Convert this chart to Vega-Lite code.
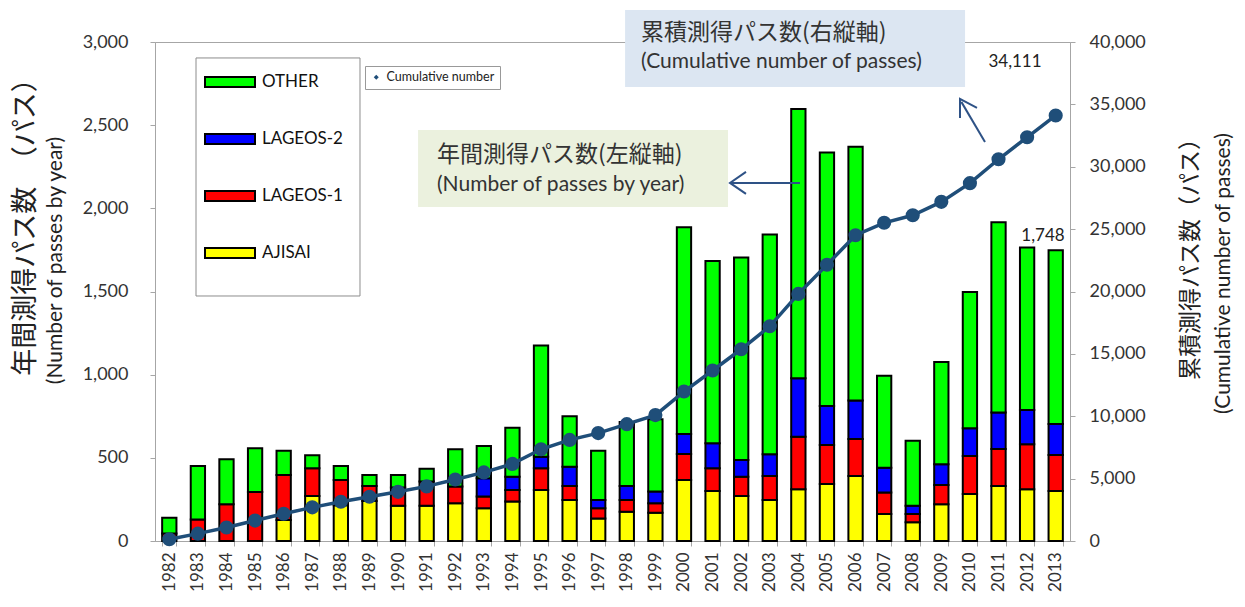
{
  "$schema": "https://vega.github.io/schema/vega-lite/v6.json",
  "width": 915,
  "height": 499,
  "autosize": "none",
  "padding": {"left": 155, "top": 42, "right": 175, "bottom": 66},
  "background": "white",
  "config": {
    "font": "Lato",
    "view": {"stroke": "#a6a6a6"},
    "axis": {"domainColor": "#a6a6a6", "tickColor": "#a6a6a6", "labelColor": "#333333", "labelFontSize": 18, "grid": false, "titleColor": "#222222", "titleFontWeight": "normal"}
  },
  "datasets": {
    "passes": [
      {"year": "1982", "sat": "LAGEOS-1", "n": 45}, {"year": "1982", "sat": "OTHER", "n": 95},
      {"year": "1983", "sat": "LAGEOS-1", "n": 130}, {"year": "1983", "sat": "OTHER", "n": 321},
      {"year": "1984", "sat": "LAGEOS-1", "n": 221}, {"year": "1984", "sat": "OTHER", "n": 270},
      {"year": "1985", "sat": "LAGEOS-1", "n": 295}, {"year": "1985", "sat": "OTHER", "n": 262},
      {"year": "1986", "sat": "AJISAI", "n": 126}, {"year": "1986", "sat": "LAGEOS-1", "n": 271}, {"year": "1986", "sat": "OTHER", "n": 146},
      {"year": "1987", "sat": "AJISAI", "n": 270}, {"year": "1987", "sat": "LAGEOS-1", "n": 167}, {"year": "1987", "sat": "OTHER", "n": 78},
      {"year": "1988", "sat": "AJISAI", "n": 215}, {"year": "1988", "sat": "LAGEOS-1", "n": 152}, {"year": "1988", "sat": "OTHER", "n": 84},
      {"year": "1989", "sat": "AJISAI", "n": 240}, {"year": "1989", "sat": "LAGEOS-1", "n": 91}, {"year": "1989", "sat": "OTHER", "n": 66},
      {"year": "1990", "sat": "AJISAI", "n": 212}, {"year": "1990", "sat": "LAGEOS-1", "n": 110}, {"year": "1990", "sat": "OTHER", "n": 75},
      {"year": "1991", "sat": "AJISAI", "n": 212}, {"year": "1991", "sat": "LAGEOS-1", "n": 145}, {"year": "1991", "sat": "OTHER", "n": 78},
      {"year": "1992", "sat": "AJISAI", "n": 227}, {"year": "1992", "sat": "LAGEOS-1", "n": 100}, {"year": "1992", "sat": "OTHER", "n": 224},
      {"year": "1993", "sat": "AJISAI", "n": 197}, {"year": "1993", "sat": "LAGEOS-1", "n": 70}, {"year": "1993", "sat": "LAGEOS-2", "n": 110}, {"year": "1993", "sat": "OTHER", "n": 194},
      {"year": "1994", "sat": "AJISAI", "n": 237}, {"year": "1994", "sat": "LAGEOS-1", "n": 70}, {"year": "1994", "sat": "LAGEOS-2", "n": 80}, {"year": "1994", "sat": "OTHER", "n": 294},
      {"year": "1995", "sat": "AJISAI", "n": 307}, {"year": "1995", "sat": "LAGEOS-1", "n": 130}, {"year": "1995", "sat": "LAGEOS-2", "n": 70}, {"year": "1995", "sat": "OTHER", "n": 668},
      {"year": "1996", "sat": "AJISAI", "n": 247}, {"year": "1996", "sat": "LAGEOS-1", "n": 84}, {"year": "1996", "sat": "LAGEOS-2", "n": 116}, {"year": "1996", "sat": "OTHER", "n": 303},
      {"year": "1997", "sat": "AJISAI", "n": 136}, {"year": "1997", "sat": "LAGEOS-1", "n": 61}, {"year": "1997", "sat": "LAGEOS-2", "n": 50}, {"year": "1997", "sat": "OTHER", "n": 296},
      {"year": "1998", "sat": "AJISAI", "n": 176}, {"year": "1998", "sat": "LAGEOS-1", "n": 71}, {"year": "1998", "sat": "LAGEOS-2", "n": 84}, {"year": "1998", "sat": "OTHER", "n": 384},
      {"year": "1999", "sat": "AJISAI", "n": 170}, {"year": "1999", "sat": "LAGEOS-1", "n": 57}, {"year": "1999", "sat": "LAGEOS-2", "n": 70}, {"year": "1999", "sat": "OTHER", "n": 435},
      {"year": "2000", "sat": "AJISAI", "n": 367}, {"year": "2000", "sat": "LAGEOS-1", "n": 156}, {"year": "2000", "sat": "LAGEOS-2", "n": 120}, {"year": "2000", "sat": "OTHER", "n": 1243},
      {"year": "2001", "sat": "AJISAI", "n": 301}, {"year": "2001", "sat": "LAGEOS-1", "n": 136}, {"year": "2001", "sat": "LAGEOS-2", "n": 150}, {"year": "2001", "sat": "OTHER", "n": 1097},
      {"year": "2002", "sat": "AJISAI", "n": 271}, {"year": "2002", "sat": "LAGEOS-1", "n": 116}, {"year": "2002", "sat": "LAGEOS-2", "n": 100}, {"year": "2002", "sat": "OTHER", "n": 1217},
      {"year": "2003", "sat": "AJISAI", "n": 247}, {"year": "2003", "sat": "LAGEOS-1", "n": 144}, {"year": "2003", "sat": "LAGEOS-2", "n": 130}, {"year": "2003", "sat": "OTHER", "n": 1321},
      {"year": "2004", "sat": "AJISAI", "n": 311}, {"year": "2004", "sat": "LAGEOS-1", "n": 316}, {"year": "2004", "sat": "LAGEOS-2", "n": 351}, {"year": "2004", "sat": "OTHER", "n": 1619},
      {"year": "2005", "sat": "AJISAI", "n": 343}, {"year": "2005", "sat": "LAGEOS-1", "n": 234}, {"year": "2005", "sat": "LAGEOS-2", "n": 235}, {"year": "2005", "sat": "OTHER", "n": 1523},
      {"year": "2006", "sat": "AJISAI", "n": 391}, {"year": "2006", "sat": "LAGEOS-1", "n": 222}, {"year": "2006", "sat": "LAGEOS-2", "n": 231}, {"year": "2006", "sat": "OTHER", "n": 1526},
      {"year": "2007", "sat": "AJISAI", "n": 162}, {"year": "2007", "sat": "LAGEOS-1", "n": 129}, {"year": "2007", "sat": "LAGEOS-2", "n": 150}, {"year": "2007", "sat": "OTHER", "n": 553},
      {"year": "2008", "sat": "AJISAI", "n": 112}, {"year": "2008", "sat": "LAGEOS-1", "n": 50}, {"year": "2008", "sat": "LAGEOS-2", "n": 50}, {"year": "2008", "sat": "OTHER", "n": 391},
      {"year": "2009", "sat": "AJISAI", "n": 221}, {"year": "2009", "sat": "LAGEOS-1", "n": 116}, {"year": "2009", "sat": "LAGEOS-2", "n": 124}, {"year": "2009", "sat": "OTHER", "n": 615},
      {"year": "2010", "sat": "AJISAI", "n": 283}, {"year": "2010", "sat": "LAGEOS-1", "n": 228}, {"year": "2010", "sat": "LAGEOS-2", "n": 167}, {"year": "2010", "sat": "OTHER", "n": 819},
      {"year": "2011", "sat": "AJISAI", "n": 331}, {"year": "2011", "sat": "LAGEOS-1", "n": 222}, {"year": "2011", "sat": "LAGEOS-2", "n": 219}, {"year": "2011", "sat": "OTHER", "n": 1144},
      {"year": "2012", "sat": "AJISAI", "n": 311}, {"year": "2012", "sat": "LAGEOS-1", "n": 270}, {"year": "2012", "sat": "LAGEOS-2", "n": 207}, {"year": "2012", "sat": "OTHER", "n": 976},
      {"year": "2013", "sat": "AJISAI", "n": 301}, {"year": "2013", "sat": "LAGEOS-1", "n": 216}, {"year": "2013", "sat": "LAGEOS-2", "n": 187}, {"year": "2013", "sat": "OTHER", "n": 1044}
    ],
    "cumul": [
      {"year": "1982", "cum": 140}, {"year": "1983", "cum": 591}, {"year": "1984", "cum": 1082}, {"year": "1985", "cum": 1639},
      {"year": "1986", "cum": 2182}, {"year": "1987", "cum": 2697}, {"year": "1988", "cum": 3148}, {"year": "1989", "cum": 3545},
      {"year": "1990", "cum": 3942}, {"year": "1991", "cum": 4377}, {"year": "1992", "cum": 4928}, {"year": "1993", "cum": 5499},
      {"year": "1994", "cum": 6180}, {"year": "1995", "cum": 7355}, {"year": "1996", "cum": 8105}, {"year": "1997", "cum": 8648},
      {"year": "1998", "cum": 9363}, {"year": "1999", "cum": 10095}, {"year": "2000", "cum": 11981}, {"year": "2001", "cum": 13665},
      {"year": "2002", "cum": 15369}, {"year": "2003", "cum": 17211}, {"year": "2004", "cum": 19808}, {"year": "2005", "cum": 22143},
      {"year": "2006", "cum": 24513}, {"year": "2007", "cum": 25507}, {"year": "2008", "cum": 26110}, {"year": "2009", "cum": 27186},
      {"year": "2010", "cum": 28683}, {"year": "2011", "cum": 30599}, {"year": "2012", "cum": 32363}, {"year": "2013", "cum": 34111}
    ]
  },
  "resolve": {"scale": {"x": "independent", "y": "independent", "color": "independent"}, "axis": {"x": "independent", "y": "independent"}},
  "layer": [
    {
      "data": {"values": [{}]},
      "mark": {"type": "rect", "fill": "white", "stroke": "#8c8c8c", "strokeWidth": 1},
      "encoding": {
        "x": {"datum": 1.434, "type": "quantitative", "scale": {"domain": [0, 32], "nice": false, "zero": false}, "axis": null},
        "x2": {"datum": 7.169},
        "y": {"datum": 2904, "type": "quantitative", "scale": {"domain": [0, 3000], "nice": false}, "axis": null},
        "y2": {"datum": 1473}
      }
    },
    {
      "data": {"name": "passes"},
      "mark": {"type": "bar", "stroke": "black", "strokeWidth": 2},
      "encoding": {
        "x": {"field": "year", "type": "ordinal", "scale": {"paddingInner": 0.5, "paddingOuter": 0.25},
          "axis": {"title": null, "labelAngle": 270, "labelFontSize": 17, "tickBand": "extent", "tickSize": 5, "labelPadding": 6}},
        "y": {"field": "n", "type": "quantitative", "stack": "zero", "scale": {"domain": [0, 3000], "nice": false},
          "axis": {"values": [0, 500, 1000, 1500, 2000, 2500, 3000], "format": ",.0f", "tickSize": 5, "labelPadding": 22,
            "title": "年間測得パス数　（パス）", "titleFont": "Noto Sans CJK JP", "titleFontSize": 27,
            "titleX": -130, "titleY": 178, "titleBaseline": "middle", "titleAlign": "center", "titleAngle": 270}},
        "color": {"field": "sat", "type": "nominal",
          "scale": {"domain": ["OTHER", "LAGEOS-2", "LAGEOS-1", "AJISAI"], "range": ["#00ff00", "#0000ff", "#ff0000", "#ffff00"]},
          "legend": {"orient": "none", "legendX": 64, "legendY": 29, "title": null, "direction": "vertical",
            "symbolType": "M-2.5,-0.5H2.5V0.5H-2.5Z", "symbolSize": 400, "symbolStrokeColor": "black", "symbolStrokeWidth": 2,
            "labelFontSize": 17, "labelColor": "#111111", "labelOffset": 21, "rowPadding": 37}},
        "order": {"field": "sat", "sort": "ascending"}
      }
    },
    {
      "data": {"name": "cumul"},
      "mark": {"type": "line", "strokeWidth": 3.5, "point": {"filled": true, "size": 200}},
      "encoding": {
        "x": {"field": "year", "type": "ordinal", "scale": {"paddingInner": 0.5, "paddingOuter": 0.25}, "axis": null},
        "y": {"field": "cum", "type": "quantitative", "scale": {"domain": [0, 40000], "nice": false},
          "axis": {"orient": "right", "values": [0, 5000, 10000, 15000, 20000, 25000, 30000, 35000, 40000], "format": ",.0f", "tickSize": 5, "labelPadding": 14,
            "title": "累積測得パス数（パス）", "titleFont": "Noto Sans CJK JP", "titleFontSize": 23,
            "titleX": 120, "titleY": 211, "titleBaseline": "middle", "titleAlign": "center", "titleAngle": 270}},
        "color": {"datum": "Cumulative number", "type": "nominal", "scale": {"range": ["#1f4e79"]},
          "legend": {"orient": "none", "legendX": 210, "legendY": 24, "title": null, "fillColor": "white", "strokeColor": "#999999",
            "padding": 5, "symbolType": "diamond", "symbolSize": 25, "symbolFillColor": "#1f2f79", "symbolStrokeWidth": 0,
            "labelFontSize": 12.5, "labelColor": "#222222", "labelOffset": 4}}
      }
    },
    {
      "data": {"values": [{}]},
      "mark": {"type": "point", "opacity": 0},
      "encoding": {
        "x": {"datum": 0, "type": "quantitative", "scale": {"domain": [0, 32], "nice": false, "zero": false}, "axis": null},
        "y": {"datum": 0, "type": "quantitative", "scale": {"domain": [0, 3000], "nice": false},
          "axis": {"orient": "left", "labels": false, "ticks": false, "domain": false, "title": "(Number of passes by year)",
            "titleFontSize": 21, "titleX": -100, "titleY": 218, "titleBaseline": "middle", "titleAlign": "center", "titleAngle": 270}}
      }
    },
    {
      "data": {"values": [{}]},
      "mark": {"type": "point", "opacity": 0},
      "encoding": {
        "x": {"datum": 0, "type": "quantitative", "scale": {"domain": [0, 32], "nice": false, "zero": false}, "axis": null},
        "y": {"datum": 0, "type": "quantitative", "scale": {"domain": [0, 3000], "nice": false},
          "axis": {"orient": "right", "labels": false, "ticks": false, "domain": false, "title": "(Cumulative number of passes)",
            "titleFontSize": 21, "titleX": 153, "titleY": 231, "titleBaseline": "middle", "titleAlign": "center", "titleAngle": 270}}
      }
    },
    {
      "data": {"values": [{}]},
      "mark": {"type": "rect", "fill": "#ebf1de"},
      "encoding": {
        "x": {"datum": 9.2, "type": "quantitative", "scale": {"domain": [0, 32], "nice": false, "zero": false}, "axis": null},
        "x2": {"datum": 20.04},
        "y": {"datum": 2471, "type": "quantitative", "scale": {"domain": [0, 3000], "nice": false}, "axis": null},
        "y2": {"datum": 2008}
      }
    },
    {
      "data": {"values": [{}]},
      "mark": {"type": "text", "align": "left", "baseline": "middle", "font": "Noto Sans CJK JP", "fontSize": 23, "color": "#333333"},
      "encoding": {
        "x": {"datum": 9.862, "type": "quantitative", "scale": {"domain": [0, 32], "nice": false, "zero": false}, "axis": null},
        "y": {"datum": 2321, "type": "quantitative", "scale": {"domain": [0, 3000], "nice": false}, "axis": null},
        "text": {"value": "年間測得パス数(左縦軸)"}
      }
    },
    {
      "data": {"values": [{}]},
      "mark": {"type": "text", "align": "left", "baseline": "middle", "fontSize": 21, "color": "#333333"},
      "encoding": {
        "x": {"datum": 9.862, "type": "quantitative", "scale": {"domain": [0, 32], "nice": false, "zero": false}, "axis": null},
        "y": {"datum": 2141, "type": "quantitative", "scale": {"domain": [0, 3000], "nice": false}, "axis": null},
        "text": {"value": "(Number of passes by year)"}
      }
    },
    {
      "data": {"values": [{}]},
      "mark": {"type": "rule", "color": "#2e5286", "strokeWidth": 2},
      "encoding": {
        "x": {"datum": 20.109, "type": "quantitative", "scale": {"domain": [0, 32], "nice": false, "zero": false}, "axis": null},
        "x2": {"datum": 22.557},
        "y": {"datum": 2153, "type": "quantitative", "scale": {"domain": [0, 3000], "nice": false}, "axis": null},
        "y2": {"datum": 2153}
      }
    },
    {
      "data": {"values": [{}]},
      "mark": {"type": "point", "shape": "M1.6,-1.1L0,0L1.6,1.1", "filled": false, "size": 400, "strokeWidth": 2, "color": "#2e5286", "opacity": 1},
      "encoding": {
        "x": {"datum": 20.109, "type": "quantitative", "scale": {"domain": [0, 32], "nice": false, "zero": false}, "axis": null},
        "y": {"datum": 2153, "type": "quantitative", "scale": {"domain": [0, 3000], "nice": false}, "axis": null}
      }
    },
    {
      "data": {"values": [{}]},
      "mark": {"type": "rect", "fill": "#dce6f2"},
      "encoding": {
        "x": {"datum": 16.44, "type": "quantitative", "scale": {"domain": [0, 32], "nice": false, "zero": false}, "axis": null},
        "x2": {"datum": 28.33},
        "y": {"datum": 3193, "type": "quantitative", "scale": {"domain": [0, 3000], "nice": false}, "axis": null},
        "y2": {"datum": 2730}
      }
    },
    {
      "data": {"values": [{}]},
      "mark": {"type": "text", "align": "left", "baseline": "middle", "font": "Noto Sans CJK JP", "fontSize": 23, "color": "#333333"},
      "encoding": {
        "x": {"datum": 16.997, "type": "quantitative", "scale": {"domain": [0, 32], "nice": false, "zero": false}, "axis": null},
        "y": {"datum": 3055, "type": "quantitative", "scale": {"domain": [0, 3000], "nice": false}, "axis": null},
        "text": {"value": "累積測得パス数(右縦軸)"}
      }
    },
    {
      "data": {"values": [{}]},
      "mark": {"type": "text", "align": "left", "baseline": "middle", "fontSize": 21, "color": "#333333"},
      "encoding": {
        "x": {"datum": 16.997, "type": "quantitative", "scale": {"domain": [0, 32], "nice": false, "zero": false}, "axis": null},
        "y": {"datum": 2880, "type": "quantitative", "scale": {"domain": [0, 3000], "nice": false}, "axis": null},
        "text": {"value": "(Cumulative number of passes)"}
      }
    },
    {
      "data": {"values": [{}]},
      "mark": {"type": "rule", "color": "#2e5286", "strokeWidth": 2},
      "encoding": {
        "x": {"datum": 28.2, "type": "quantitative", "scale": {"domain": [0, 32], "nice": false, "zero": false}, "axis": null},
        "x2": {"datum": 29.027},
        "y": {"datum": 2640, "type": "quantitative", "scale": {"domain": [0, 3000], "nice": false}, "axis": null},
        "y2": {"datum": 2399}
      }
    },
    {
      "data": {"values": [{}]},
      "mark": {"type": "point", "shape": "M1.7,0.9L0,0L0,1.9", "filled": false, "size": 400, "strokeWidth": 2, "color": "#2e5286", "opacity": 1},
      "encoding": {
        "x": {"datum": 28.153, "type": "quantitative", "scale": {"domain": [0, 32], "nice": false, "zero": false}, "axis": null},
        "y": {"datum": 2658, "type": "quantitative", "scale": {"domain": [0, 3000], "nice": false}, "axis": null}
      }
    },
    {
      "data": {"values": [{}]},
      "mark": {"type": "text", "align": "center", "baseline": "middle", "fontSize": 17, "color": "#222222"},
      "encoding": {
        "x": {"datum": 30.076, "type": "quantitative", "scale": {"domain": [0, 32], "nice": false, "zero": false}, "axis": null},
        "y": {"datum": 2880, "type": "quantitative", "scale": {"domain": [0, 3000], "nice": false}, "axis": null},
        "text": {"value": "34,111"}
      }
    },
    {
      "data": {"values": [{}]},
      "mark": {"type": "text", "align": "center", "baseline": "middle", "fontSize": 17, "color": "#222222"},
      "encoding": {
        "x": {"datum": 31.055, "type": "quantitative", "scale": {"domain": [0, 32], "nice": false, "zero": false}, "axis": null},
        "y": {"datum": 1834, "type": "quantitative", "scale": {"domain": [0, 3000], "nice": false}, "axis": null},
        "text": {"value": "1,748"}
      }
    }
  ]
}
